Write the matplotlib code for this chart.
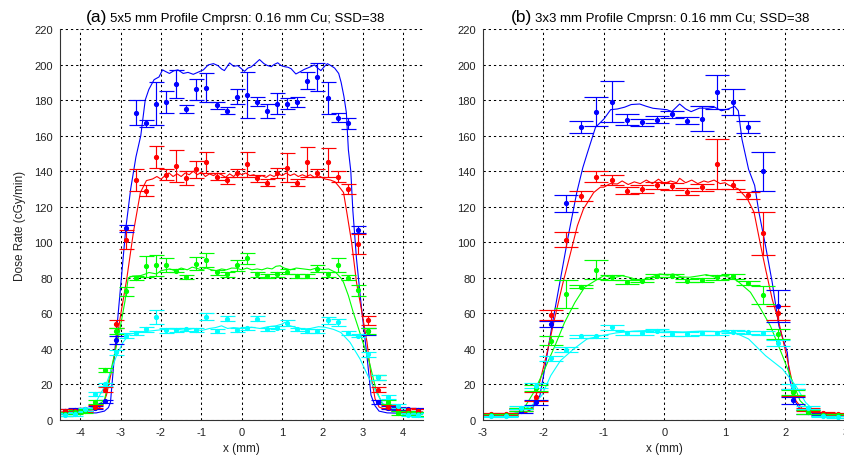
import matplotlib
matplotlib.use('Agg')
import matplotlib.pyplot as plt

plt.rcParams['font.family'] = ['Liberation Sans', 'DejaVu Sans']
plt.rcParams['axes.unicode_minus'] = False

# ---- panel (a): 5x5 mm field, measured points (x in mm)
xa = [-4.375, -4.125, -3.875, -3.625, -3.375, -3.125, -2.875, -2.625, -2.375,
      -2.125, -1.875, -1.625, -1.375, -1.125, -0.875, -0.625, -0.375, -0.125,
      0.125, 0.375, 0.625, 0.875, 1.125, 1.375, 1.625, 1.875, 2.125, 2.375,
      2.625, 2.875, 3.125, 3.375, 3.625, 3.875, 4.125, 4.375]

blue_a = [5, 5.5, 6, 7, 10.5, 45, 108, 173, 167, 178, 179, 189, 175, 186, 187, 177, 174, 182,
          183, 179, 174, 178, 178, 179, 191, 193, 181, 170, 167, 107, 50, 10, 7, 6.5, 6, 5.5]
blue_a_err = [1, 1, 1, 1, 1, 2, 2, 7, 2, 12, 6, 8, 2, 6, 8, 2, 2, 4,
              13, 2.5, 4, 6, 3, 3, 5, 8, 9, 2.5, 3, 2, 2, 1, 1, 1, 1, 1]
red_a = [5, 5, 5.5, 7.5, 17, 54, 101.5, 135, 129, 148, 138, 143, 136, 141, 145, 137, 135, 139,
         144, 136, 133.5, 139, 142, 133.5, 145, 139, 145, 137, 130, 99, 56, 17, 7.5, 6, 5.5, 5]
red_a_err = [1, 1, 1, 1, 1.5, 2, 5.5, 6, 3, 6, 3, 9, 4, 5, 6, 2, 2, 2,
             7, 2, 2, 3, 8, 2, 8.5, 2, 8, 3, 3, 5.5, 2.5, 1.5, 1, 1, 1, 1]
green_a = [3.5, 4.5, 5, 10, 28, 50, 72.5, 80, 86.5, 87, 87, 84, 80.5, 88, 90, 83, 82, 87,
           91, 82, 81, 82, 83.5, 81, 81, 85, 82, 87, 80, 73, 50, 24, 10, 4, 3.8, 3.5]
green_a_err = [1, 1, 1, 1, 1, 1.5, 2.5, 1, 6, 6, 4, 1, 1, 3.5, 4, 1.5, 1.5, 3,
               3, 1.5, 1, 1.5, 1.5, 1, 1, 2, 1.5, 4, 1.5, 3, 1.5, 1.5, 1, 1, 1, 1]
cyan_a = [3, 3.5, 6, 14.5, 20, 38, 47.5, 49, 51, 58, 50.5, 50.5, 51, 50.5, 58, 50, 57, 50.5,
          51.5, 57, 51, 52, 54.5, 51, 50, 50, 56, 55, 49, 47.5, 37, 24, 13, 8, 3, 2.8]
cyan_a_err = [1, 1, 1, 1, 1, 1.5, 1.5, 1, 1.5, 4, 1.5, 1, 1, 1, 2, 1, 1.5, 1,
              1, 1.5, 1, 1, 1.5, 1, 1, 1, 2, 2, 1, 1, 1.5, 1.5, 1, 1, 1, 1]

# panel (a) simulated profiles
blue_a_lx = [-4.5, -4.0, -3.6, -3.4, -3.3, -3.25, -3.13, -3.0, -2.87, -2.75, -2.62, -2.5, -2.39,
             -2.3, -2.17, -2.05, -1.96, -1.88, -1.79, -1.68, -1.58, -1.45, -1.33, -1.2, -1.09,
             -0.95, -0.83, -0.7, -0.59, -0.5, -0.43, -0.3, -0.2, -0.1, 0.0, 0.07, 0.15, 0.23,
             0.33, 0.44, 0.55, 0.63, 0.73, 0.8, 0.89, 0.97, 1.06, 1.14, 1.22, 1.34, 1.45, 1.55,
             1.68, 1.8, 1.88, 1.96, 2.05, 2.12, 2.2, 2.3, 2.4, 2.46, 2.53, 2.59, 2.64, 2.7, 2.75,
             2.84, 2.96, 3.1, 3.2, 3.3, 3.4, 3.6, 4.0, 4.5]
blue_a_ly = [3.5, 3.8, 4, 5, 7, 10, 42, 75, 108, 130, 148, 160, 180,
             186, 191.5, 193, 197, 196, 195, 196.5, 197, 195, 195.6, 194.5, 195.6,
             197, 199.8, 200.5, 199.4, 197.5, 196.6, 200.9, 199, 199.4, 197.5, 196.2, 198, 198.6,
             200.5, 202.8, 200.5, 199.5, 198.8, 200, 201, 199.5, 198.8, 198.5, 197.7, 194.7, 196, 197.3,
             198.5, 199.8, 198, 196.6, 199, 200.5, 199.5, 198, 195, 190, 182, 173, 152, 140, 118,
             91, 64, 36, 14, 8, 5, 4, 3.8, 3.5]
red_a_lx = [-4.5, -4.0, -3.6, -3.45, -3.35, -3.2, -3.1, -3.0, -2.85, -2.68, -2.51, -2.36, -2.21,
            -2.1, -2.0, -1.9, -1.8, -1.7, -1.6, -1.5, -1.4, -1.3, -1.2, -1.1, -1.0, -0.9, -0.8,
            -0.7, -0.6, -0.5, -0.4, -0.3, -0.2, -0.1, 0.0, 0.1, 0.2, 0.3, 0.4, 0.5, 0.6, 0.7,
            0.8, 0.9, 1.0, 1.1, 1.2, 1.3, 1.4, 1.5, 1.6, 1.7, 1.8, 1.9, 2.06, 2.2, 2.31, 2.42,
            2.52, 2.6, 2.72, 2.84, 2.96, 3.1, 3.2, 3.3, 3.4, 3.6, 4.0, 4.5]
red_a_ly = [4.5, 5, 6, 8, 14, 30, 44, 59, 79, 106, 128, 134.7, 135.6,
            137, 135.5, 137.5, 139, 137, 138.5, 137, 139, 138, 140, 138, 139.5, 137, 138.5,
            137.5, 139, 138, 136.5, 138.5, 137, 139.5, 138, 139, 137.5, 138, 136.5, 137.5, 136.5, 138,
            137, 138.5, 137.5, 139, 137.5, 138.5, 137, 138, 137, 138, 136.5, 137.5, 135.6, 135, 134, 131,
            128, 117, 100, 77.6, 62.5, 44, 25, 12, 7.3, 5.5, 5, 4.5]
green_a_lx = [-4.5, -4.0, -3.64, -3.4, -3.25, -3.05, -2.89, -2.81, -2.7, -2.51, -2.4, -2.3, -2.11,
              -2.0, -1.9, -1.78, -1.65, -1.5, -1.35, -1.23, -1.12, -1.0, -0.88, -0.75, -0.63, -0.5,
              -0.38, -0.25, -0.13, 0.0, 0.13, 0.25, 0.38, 0.5, 0.63, 0.75, 0.85, 0.95, 1.05, 1.2,
              1.35, 1.53, 1.7, 1.85, 2.0, 2.15, 2.33, 2.45, 2.52, 2.64, 2.76, 2.87, 3.0, 3.16,
              3.32, 3.48, 3.64, 4.0, 4.5]
green_a_ly = [3.5, 3.8, 7.3, 11, 27, 47, 67, 80, 81, 81.2, 82, 83, 82.2,
              84, 84.5, 85, 84, 85.5, 84.5, 86, 85.4, 84.5, 85.5, 84.5, 84, 85,
              84.5, 85.5, 85.4, 84.5, 85.5, 84.5, 85, 84.5, 85.5, 85, 86.5, 86.8, 85.5, 84.5,
              85.5, 85, 84.5, 85.5, 84.6, 85, 83, 80, 77.5, 70, 60.6, 53, 43.7, 32.5,
              17.4, 9, 6.2, 4, 3.5]
cyan_a_lx = [-4.5, -4.0, -3.8, -3.59, -3.34, -3.1, -2.94, -2.78, -2.51, -2.3, -2.1, -1.83, -1.6,
             -1.4, -1.2, -1.0, -0.8, -0.65, -0.5, -0.35, -0.2, 0.0, 0.24, 0.45, 0.65, 0.85, 1.0,
             1.07, 1.2, 1.35, 1.53, 1.7, 1.9, 2.06, 2.27, 2.45, 2.68, 2.93, 3.12, 3.33, 3.53,
             3.74, 4.0, 4.5]
cyan_a_ly = [3, 3, 5, 10.9, 21.2, 36.2, 43.7, 48.4, 49.3, 50, 50.5, 51.2, 51,
             50.5, 51.5, 50.3, 51.5, 52, 53, 51.5, 52, 51.5, 52.2, 51.5, 52.5, 53, 54,
             55, 53, 52, 51.2, 51.5, 52.5, 52.2, 51, 49.3, 43.7, 34.3, 25, 15.6, 8,
             5.2, 3, 3]

# ---- panel (b): 3x3 mm field
xb = [-2.875, -2.625, -2.375, -2.125, -1.875, -1.625, -1.375, -1.125, -0.875, -0.625, -0.375,
      -0.125, 0.125, 0.375, 0.625, 0.875, 1.125, 1.375, 1.625, 1.875, 2.125, 2.375, 2.625, 2.875]

blue_b = [3, 3, 5, 10, 54, 122, 165, 173.5, 179, 169, 167.5, 169,
          172, 168.5, 169.5, 184.5, 179, 165, 140, 64, 11, 4.5, 3.5, 3]
blue_b_err = [0.5, 0.5, 1, 1.5, 1.5, 4.7, 3.5, 8, 11.6, 3, 2, 2,
              2, 2, 7, 9.4, 7.5, 3.5, 11, 9, 2, 1, 0.5, 0.5]
red_b = [3.5, 3.5, 6, 13, 59, 101.5, 126, 137, 135, 129, 130, 132,
         131.5, 128.5, 131, 144, 132.5, 126.5, 105, 60, 15.5, 6, 4, 3.5]
red_b_err = [0.5, 0.5, 1, 2.5, 3, 4.4, 3, 3.2, 3, 2, 2, 2,
             2, 2, 2, 14, 2.5, 2, 12, 4, 2, 1, 0.5, 0.5]
green_b = [3, 3, 6, 18, 44.6, 71, 75, 84.6, 80.3, 77.5, 78.4, 81.2,
           81.2, 78.4, 78.8, 80.3, 80.8, 77, 70.5, 48.4, 15.6, 4.5, 3, 3]
green_b_err = [0.5, 0.5, 1, 1.5, 2.4, 8, 1, 5.3, 1.5, 1, 1, 1,
               1, 1, 1, 1.5, 1.5, 1, 5, 3, 1.5, 1, 0.5, 0.5]
cyan_b = [2, 2, 7, 19.3, 34.7, 39.6, 47.1, 47.1, 52.2, 49, 49, 50.3,
          48.4, 48.4, 49, 49, 49.7, 49.3, 49, 43.3, 19, 7, 2, 1.8]
cyan_b_err = [0.5, 0.5, 1, 1.5, 1.5, 1.5, 1, 1, 1.5, 1, 1, 1,
              1, 1, 1, 1, 1, 1, 1, 1.5, 1.5, 1, 0.5, 0.5]

blue_b_lx = [-3.0, -2.6, -2.3, -2.19, -2.06, -1.97, -1.86, -1.72, -1.59, -1.45, -1.35, -1.28,
             -1.14, -1.0, -0.89, -0.78, -0.66, -0.55, -0.41, -0.3, -0.19, -0.08, 0.04, 0.12,
             0.25, 0.35, 0.44, 0.58, 0.72, 0.83, 0.94, 1.05, 1.16, 1.22, 1.28, 1.39, 1.49,
             1.56, 1.67, 1.78, 1.89, 2.03, 2.07, 2.15, 2.24, 2.5, 3.0]
blue_b_ly = [3, 3, 4, 6.2, 13.7, 30.6, 53, 79.3, 103.7, 128, 142, 149.7,
             164.7, 169.4, 174.6, 175, 176, 177.5, 177.8, 176.5, 175.4, 175, 174.6, 173.5,
             177.8, 175, 173.5, 175.5, 175.4, 176, 174, 175, 176.5, 174, 158, 141, 132,
             117, 98, 77.5, 53, 38, 23, 10.9, 6.2, 3.5, 3]
red_b_lx = [-3.0, -2.5, -2.28, -2.17, -2.05, -1.94, -1.83, -1.69, -1.55, -1.44, -1.34, -1.17,
            -1.06, -1.0, -0.9, -0.78, -0.7, -0.6, -0.5, -0.4, -0.3, -0.2, -0.1, 0.0, 0.1,
            0.2, 0.25, 0.35, 0.45, 0.55, 0.65, 0.72, 0.82, 0.92, 1.0, 1.06, 1.22, 1.37, 1.48,
            1.59, 1.67, 1.78, 1.89, 2.03, 2.1, 2.17, 2.28, 2.5, 3.0]
red_b_ly = [3.5, 3.5, 4.3, 8, 23, 38, 55, 75.6, 94.4, 109.3, 118.7, 128,
            131, 131, 133, 132.8, 134.5, 132.5, 134, 133, 135, 133, 135.5, 133, 134.5,
            133.5, 136, 133.5, 135, 133, 134.5, 133.8, 135, 133, 133.5, 132.2, 130, 124.4, 116.9,
            98, 85, 68, 55, 34.3, 23, 10.9, 6.2, 3.5, 3.5]
green_b_lx = [-3.0, -2.5, -2.33, -2.16, -1.98, -1.81, -1.65, -1.48, -1.32, -1.1, -1.0, -0.85,
              -0.7, -0.55, -0.41, -0.25, -0.08, 0.05, 0.14, 0.28, 0.41, 0.55, 0.69, 0.83, 0.97,
              1.1, 1.2, 1.42, 1.59, 1.75, 1.95, 2.1, 2.24, 2.38, 2.6, 3.0]
green_b_ly = [3, 3, 6.2, 15.6, 28.7, 41.8, 55, 66.2, 74.7, 79.3, 81.2, 80,
              81.2, 80, 78.4, 80, 82.2, 81.5, 82.2, 80.5, 80.3, 81, 81.8, 80.5, 81.2,
              80, 78.4, 71.9, 62.5, 53, 36.2, 23, 10.9, 6.2, 3, 3]
cyan_b_lx = [-3.0, -2.6, -2.44, -2.2, -2.03, -1.88, -1.72, -1.5, -1.28, -1.05, -0.8, -0.5,
             -0.2, 0.0, 0.3, 0.6, 0.9, 1.17, 1.39, 1.67, 1.95, 2.17, 2.33, 2.5, 2.7, 3.0]
cyan_b_ly = [2, 2.5, 4.3, 8, 13.7, 25, 33.4, 40, 45.6, 47.4, 49, 50,
             50.5, 50, 49.5, 50, 49.7, 49, 45.6, 36.2, 28.7, 19.3, 10, 4.3, 2.5, 2]

colors = ['b', 'r', (0, 1, 0), (0, 1, 1)]

fig = plt.figure(figsize=(8.45, 4.64), dpi=100)
ax1 = fig.add_axes([60 / 845, 43 / 464, 363.5 / 845, 391 / 464])
ax2 = fig.add_axes([483 / 845, 43 / 464, 363 / 845, 391 / 464])


def panel(ax, x, pts, errs, lines, xlim, xticks, cap):
    for (lx, ly), c in zip(lines, colors):
        ax.plot(lx, ly, color=c, lw=0.8)
    for y, e, c in zip(pts, errs, colors):
        ax.errorbar(x, y, yerr=e, fmt='.', color=c, ms=5.5, elinewidth=0.85,
                    capsize=cap, capthick=0.85)
    ax.set_xlim(xlim)
    ax.set_ylim(0, 220)
    ax.set_xticks(xticks)
    ax.set_yticks(range(0, 221, 20))
    ax.grid(True, color='k', linestyle=(0, (2.2, 2.8)), linewidth=0.75)
    ax.set_axisbelow(True)
    ax.spines['top'].set_visible(False)
    ax.spines['right'].set_visible(False)
    ax.spines['left'].set_color('#333333')
    ax.spines['bottom'].set_color('#333333')
    ax.tick_params(direction='in', length=0, labelsize=8, pad=5, colors='#222222')
    ax.set_xlabel('x (mm)', fontsize=8.5, color='#222222', labelpad=4)


panel(ax1, xa,
      [blue_a, red_a, green_a, cyan_a],
      [blue_a_err, red_a_err, green_a_err, cyan_a_err],
      [(blue_a_lx, blue_a_ly), (red_a_lx, red_a_ly), (green_a_lx, green_a_ly), (cyan_a_lx, cyan_a_ly)],
      (-4.5, 4.5), range(-4, 5), 5.4)
panel(ax2, xb,
      [blue_b, red_b, green_b, cyan_b],
      [blue_b_err, red_b_err, green_b_err, cyan_b_err],
      [(blue_b_lx, blue_b_ly), (red_b_lx, red_b_ly), (green_b_lx, green_b_ly), (cyan_b_lx, cyan_b_ly)],
      (-3, 3), range(-3, 4), 8.6)

ax1.set_ylabel('Dose Rate (cGy/min)', fontsize=8.5, color='#222222', labelpad=6)

# titles: bigger panel letter followed by the description
ty = 1 - 22 / 464
fig.text(107 / 845, ty, '(a)', ha='right', va='baseline', fontsize=12.5)
fig.text(110 / 845, ty, '5x5 mm Profile Cmprsn: 0.16 mm Cu; SSD=38', ha='left', va='baseline', fontsize=9.5)
fig.text(532 / 845, ty, '(b)', ha='right', va='baseline', fontsize=12.5)
fig.text(535 / 845, ty, '3x3 mm Profile Cmprsn: 0.16 mm Cu; SSD=38', ha='left', va='baseline', fontsize=9.5)

plt.savefig('out.png', dpi=100)
